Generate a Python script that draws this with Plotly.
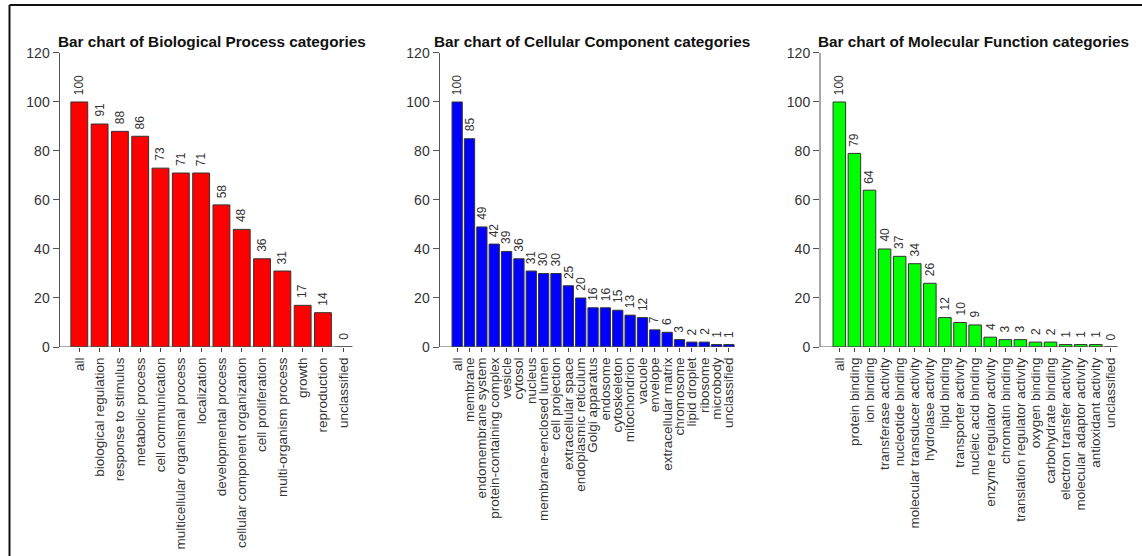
import plotly.graph_objects as go

W, H = 1142, 556

bp_cats = ["all", "biological regulation", "response to stimulus", "metabolic process",
           "cell communication", "multicellular organismal process", "localization",
           "developmental process", "cellular component organization", "cell proliferation",
           "multi-organism process", "growth", "reproduction", "unclassified"]
bp_vals = [100, 91, 88, 86, 73, 71, 71, 58, 48, 36, 31, 17, 14, 0]

cc_cats = ["all", "membrane", "endomembrane system", "protein-containing complex", "vesicle",
           "cytosol", "nucleus", "membrane-enclosed lumen", "cell projection",
           "extracellular space", "endoplasmic reticulum", "Golgi apparatus", "endosome",
           "cytoskeleton", "mitochondrion", "vacuole", "envelope", "extracellular matrix",
           "chromosome", "lipid droplet", "ribosome", "microbody", "unclassified"]
cc_vals = [100, 85, 49, 42, 39, 36, 31, 30, 30, 25, 20, 16, 16, 15, 13, 12, 7, 6, 3, 2, 2, 1, 1]

mf_cats = ["all", "protein binding", "ion binding", "transferase activity", "nucleotide binding",
           "molecular transducer activity", "hydrolase activity", "lipid binding",
           "transporter activity", "nucleic acid binding", "enzyme regulator activity",
           "chromatin binding", "translation regulator activity", "oxygen binding",
           "carbohydrate binding", "electron transfer activity", "molecular adaptor activity",
           "antioxidant activity", "unclassified"]
mf_vals = [100, 79, 64, 40, 37, 34, 26, 12, 10, 9, 4, 3, 3, 2, 2, 1, 1, 1, 0]

titles = ["Bar chart of Biological Process categories",
          "Bar chart of Cellular Component categories",
          "Bar chart of Molecular Function categories"]
colors = ["#FF0000", "#0000FF", "#00FF00"]
y_ticks = [0, 20, 40, 60, 80, 100, 120]

# panel geometry (pixels) : axis x, plot right x, x-range
panels = [
    dict(cats=bp_cats, vals=bp_vals, px0=59.5, px1=365, rng=[-0.975, 14.07]),
    dict(cats=cc_cats, vals=cc_vals, px0=439.5, px1=745, rng=[-1.43, 23.3]),
    dict(cats=mf_cats, vals=mf_vals, px0=820, px1=1126, rng=[-1.28, 19.0]),
]

FONT = "Liberation Sans, Arial, Helvetica, sans-serif"
ydom = [(H - 347) / H, (H - 41.2) / H]

fig = go.Figure()
shapes = []
annotations = []

for k, p in enumerate(panels):
    sfx = "" if k == 0 else str(k + 1)
    xa, ya = "x" + sfx, "y" + sfx
    n = len(p["cats"])
    xs = list(range(n))
    fig.add_trace(go.Bar(
        x=xs, y=p["vals"], xaxis=xa, yaxis=ya,
        marker=dict(color=colors[k], line=dict(color="#333333", width=1)),
        showlegend=False, hoverinfo="x+y",
    ))
    dom = [p["px0"] / W, p["px1"] / W]
    fig.layout["xaxis" + sfx] = dict(
        domain=dom, range=p["rng"], anchor=ya, automargin=False,
        tickmode="array", tickvals=xs, ticktext=p["cats"], tickangle=-90,
        ticks="outside", ticklen=4, tickcolor="#444444",
        tickfont=dict(family=FONT, size=13.5, color="#333333"),
        showgrid=False, zeroline=False, showline=False, fixedrange=True,
    )
    fig.layout["yaxis" + sfx] = dict(
        domain=ydom, range=[0, 124.8], anchor=xa, automargin=False,
        tickmode="array", tickvals=y_ticks,
        ticks="outside", ticklen=6, tickcolor="#555555",
        tickfont=dict(family=FONT, size=14, color="#333333"),
        showgrid=False, zeroline=False, showline=False, fixedrange=True,
    )
    # y axis line from 0 to 120
    shapes.append(dict(type="line", xref=xa + " domain", yref=ya,
                       x0=0, x1=0, y0=0, y1=120,
                       line=dict(color="#555555", width=1)))
    # baseline at 0
    shapes.append(dict(type="line", xref=xa, yref=ya,
                       x0=p["rng"][0], x1=n - 1 + 0.47, y0=0, y1=0,
                       line=dict(color="#555555", width=1)))
    # value labels
    for i, v in enumerate(p["vals"]):
        annotations.append(dict(
            x=i, y=v, xref=xa, yref=ya, text=str(v), showarrow=False,
            textangle=-90, yanchor="bottom", xanchor="center", yshift=5,
            font=dict(family=FONT, size=12, color="#333333"),
        ))
    # title
    annotations.append(dict(
        x=(dom[0] + dom[1]) / 2, y=(H - 42) / H, xref="paper", yref="paper",
        text="<b>" + titles[k] + "</b>", showarrow=False,
        xanchor="center", yanchor="middle",
        font=dict(family=FONT, size=15.3, color="#111111"),
    ))

# outer frame (top and left edges visible)
shapes.append(dict(type="line", xref="paper", yref="paper",
                   x0=9.5 / W, x1=1.0, y0=(H - 5) / H, y1=(H - 5) / H,
                   line=dict(color="#111111", width=2)))
shapes.append(dict(type="line", xref="paper", yref="paper",
                   x0=9.5 / W, x1=9.5 / W, y0=0, y1=(H - 5) / H,
                   line=dict(color="#111111", width=2)))

fig.update_layout(
    width=W, height=H, margin=dict(l=0, r=0, t=0, b=0, autoexpand=False),
    paper_bgcolor="white", plot_bgcolor="white",
    bargap=0.17, shapes=shapes, annotations=annotations,
    font=dict(family=FONT),
)

fig.write_html("out.html", config={"displayModeBar": False},
               post_script="document.body.style.margin='0px';document.body.style.padding='0px';")
